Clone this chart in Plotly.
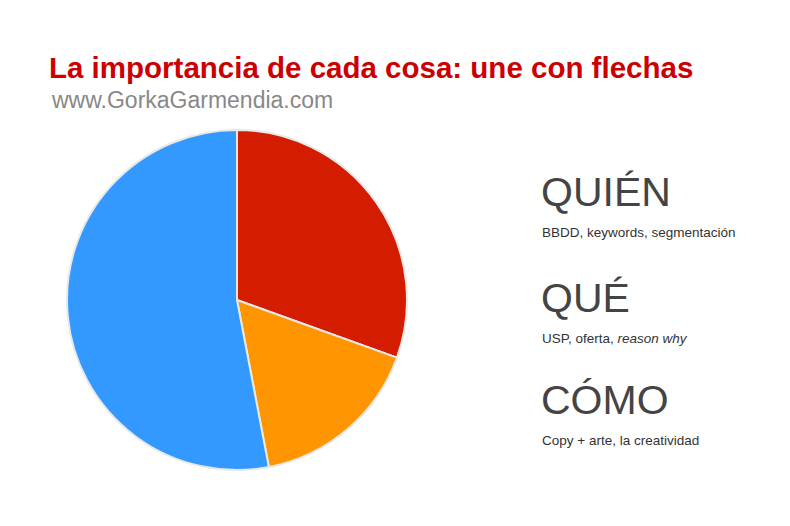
import plotly.graph_objects as go

labels = ["QUIÉN", "QUÉ", "CÓMO"]
values = [30.5, 16.5, 53]
colors = ["#D41C00", "#FF9500", "#3399FF"]
headings = ["QUIÉN", "QUÉ", "CÓMO"]
subtexts = ["BBDD, keywords, segmentación", "USP, oferta, <i>reason why</i>", "Copy + arte, la creatividad"]

W, H = 790, 526
DX, DY = 9, 8
fig = go.Figure(go.Pie(
    labels=labels, values=values, sort=False, direction="clockwise", rotation=0,
    marker=dict(colors=colors, line=dict(color="#e8e8e8", width=2)),
    textinfo="none", hoverinfo="label+percent", showlegend=False,
    domain=dict(x=[(66-DX)/W, (410-DX)/W], y=[1-(470-DY)/H, 1-(130-DY)/H]),
))
ann = [
    dict(x=(48-DX)/W, y=1-(67-DY)/H, text="<b>La importancia de cada cosa: une con flechas</b>",
         font=dict(size=29.5, color="#CC0000", family="Liberation Sans")),
    dict(x=(50-DX)/W, y=1-(100-DY)/H, text="www.GorkaGarmendia.com",
         font=dict(size=23, color="#888888", family="Liberation Sans")),
]
ys = [192, 298, 400]
for h, s, y in zip(headings, subtexts, ys):
    ann.append(dict(x=(540-DX)/W, y=1-(y-DY)/H, text=h, font=dict(size=41, color="#444444", family="Liberation Sans")))
    ann.append(dict(x=(541-DX)/W, y=1-(y+40-DY)/H, text=s, font=dict(size=13.5, color="#333333", family="Liberation Sans")))
for a in ann:
    a.update(xref="paper", yref="paper", xanchor="left", yanchor="middle", showarrow=False)
fig.update_layout(width=W, height=H, margin=dict(l=0, r=0, t=0, b=0),
                  paper_bgcolor="white", plot_bgcolor="white", annotations=ann)
fig.write_html("out.html")
